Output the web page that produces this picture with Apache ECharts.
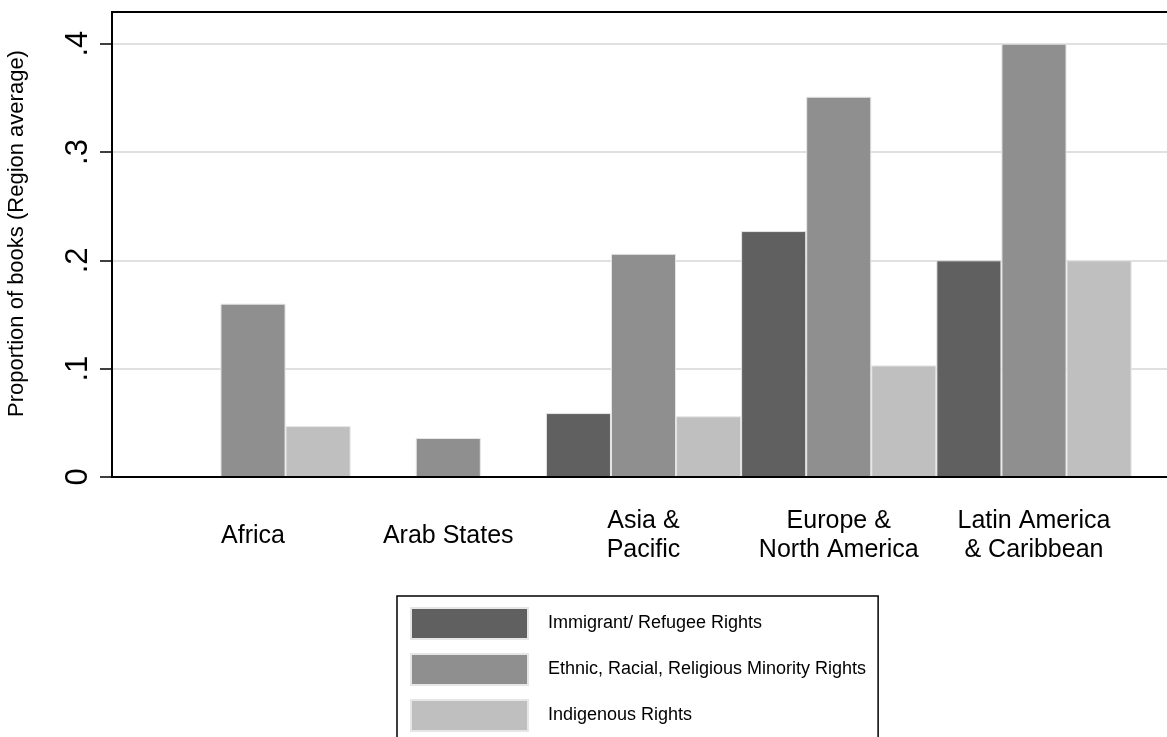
<!DOCTYPE html>
<html>
<head>
<meta charset="utf-8">
<script src="https://cdn.jsdelivr.net/npm/echarts@6/dist/echarts.min.js"></script>
<style>
html,body{margin:0;padding:0;background:#fff;}
#chart{width:1167px;height:737px;}
</style>
</head>
<body>
<div id="chart"></div>
<script>
const categories = ['Africa', 'Arab States', 'Asia &\nPacific', 'Europe &\nNorth America', 'Latin America\n& Caribbean'];
const seriesNames = ['Immigrant/ Refugee Rights', 'Ethnic, Racial, Religious Minority Rights', 'Indigenous Rights'];
const immigrant = [0, 0, 0.059, 0.227, 0.200];
const ethnic = [0.160, 0.036, 0.206, 0.351, 0.400];
const indigenous = [0.047, 0, 0.056, 0.103, 0.200];
const yTicks = [0, 0.1, 0.2, 0.3, 0.4];
const yTitle = 'Proportion of books (Region average)';

const colors = ['#606060', '#8f8f8f', '#bfbfbf'];
const FONT = "'Liberation Sans', Arial, sans-serif";
const yMax = 0.4292;

const chart = echarts.init(document.getElementById('chart'), null, {renderer: 'canvas'});

function fmt(v) {
  const r = Math.round(v * 10) / 10;
  if (r === 0) return '0';
  return String(r).replace(/^0/, '');
}

const values = [immigrant, ethnic, indigenous];

chart.setOption({
  animation: false,
  backgroundColor: '#fff',
  grid: [
    {left: 155.4, width: 976.2, top: 12, bottom: 260, show: false, outerBoundsMode: 'none', containLabel: false},
    {left: 112, top: 12, right: -10, bottom: 260, show: true, borderColor: '#000', borderWidth: 2,
     backgroundColor: 'transparent', outerBoundsMode: 'none', containLabel: false}
  ],
  xAxis: [
    {
      gridIndex: 0, type: 'category', data: categories,
      axisLine: {show: false}, axisTick: {show: false},
      axisLabel: {
        margin: 59, verticalAlign: 'middle', fontFamily: FONT, fontSize: 25,
        lineHeight: 29, color: '#000', interval: 0
      }
    },
    {
      gridIndex: 1, type: 'value', min: 0, max: 1,
      axisLine: {show: true, lineStyle: {color: '#000', width: 2}},
      axisTick: {show: false}, axisLabel: {show: false}, splitLine: {show: false}, z: 10
    }
  ],
  yAxis: [
    {gridIndex: 0, type: 'value', min: 0, max: yMax, show: false, splitLine: {show: false}},
    {
      gridIndex: 1, type: 'value', min: 0, max: yMax, interval: 0.1,
      axisLine: {show: true, lineStyle: {color: '#000', width: 2}},
      axisTick: {show: true, length: 12, lineStyle: {color: '#000', width: 1.5}, customValues: yTicks},
      axisLabel: {
        customValues: yTicks, formatter: fmt, rotate: 90, margin: 18,
        fontFamily: FONT, fontSize: 31, color: '#000'
      },
      splitLine: {show: true, lineStyle: {color: '#e0e0e0', width: 2}},
      name: yTitle, nameLocation: 'middle', nameGap: 84,
      nameTextStyle: {fontFamily: FONT, fontSize: 22, color: '#000', padding: [0, 0, 0, 22]}
    }
  ],
  legend: {
    orient: 'vertical', left: 397, top: 596, height: 300,
    itemWidth: 117, itemHeight: 31, itemGap: 13,
    padding: [11, 12, 16, 13],
    borderColor: '#000', borderWidth: 1.5, backgroundColor: '#fff',
    icon: 'rect',
    textStyle: {fontFamily: FONT, fontSize: 18, color: '#000', padding: [0, 0, 0, 15]},
    data: seriesNames
  },
  series: seriesNames.map((n, i) => ({
    name: n, type: 'bar', xAxisIndex: 0, yAxisIndex: 0,
    data: values[i], barGap: '0%', barCategoryGap: '0%',
    itemStyle: {color: colors[i], borderColor: '#e6e6e6', borderWidth: 1},
    z: 3
  }))
});
</script>
</body>
</html>
